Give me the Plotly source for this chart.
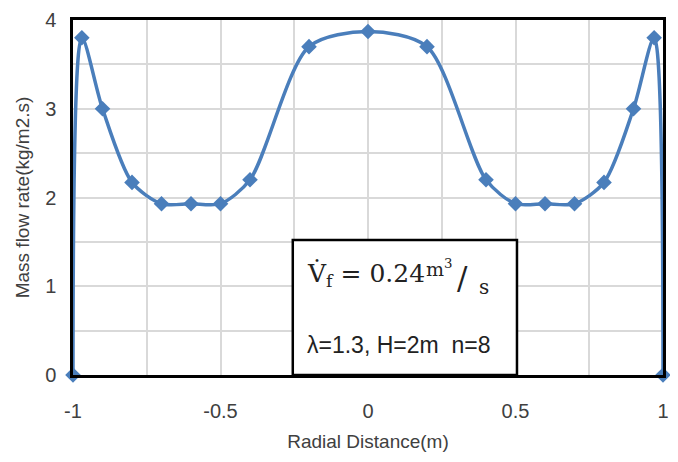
import plotly.graph_objects as go

radial = [-1.0, -0.97, -0.9, -0.8, -0.7, -0.6, -0.5, -0.4, -0.2, 0.0,
          0.2, 0.4, 0.5, 0.6, 0.7, 0.8, 0.9, 0.97, 1.0]
mass_flow = [0.0, 3.8, 3.0, 2.17, 1.93, 1.93, 1.93, 2.2, 3.7, 3.87,
             3.7, 2.2, 1.93, 1.93, 1.93, 2.17, 3.0, 3.8, 0.0]

x_ticks = [-1, -0.5, 0, 0.5, 1]
x_tick_labels = ["-1", "-0.5", "0", "0.5", "1"]
y_ticks = [0, 1, 2, 3, 4]

SANS = "Liberation Sans, Arial"
SERIF = "DejaVu Serif, Liberation Serif, serif"
BLUE = "#4a7ebb"
GREY = "#404040"
INK = "#222"

fig = go.Figure()
fig.add_trace(go.Scatter(
    x=radial, y=mass_flow, mode="lines+markers",
    line=dict(color=BLUE, width=3.5, shape="spline", smoothing=0.8),
    marker=dict(symbol="diamond", size=12, color=BLUE),
    cliponaxis=False, showlegend=False,
))

# annotation box
fig.add_shape(type="rect", xref="x", yref="y", x0=-0.255, x1=0.505, y0=0, y1=1.52,
              line=dict(color="black", width=2.5), fillcolor="white", layer="above")


def note(x, y, text, size, family, xanchor="center"):
    fig.add_annotation(x=x, y=y, xref="x", yref="y", showarrow=False, text=text,
                       xanchor=xanchor, yanchor="middle",
                       font=dict(family=family, size=size, color=INK))


# flow-rate formula, built from pieces so the unit fraction gets its own sizes
note(-0.212, 1.13, "V̇<sub>f</sub> = 0.24", 25, SERIF, "left")
note(0.190, 1.21, "m<sup>3</sup>", 19, SERIF, "left")
note(0.296, 1.09, "/", 31, SERIF, "left")
note(0.370, 0.99, "s", 20, SERIF, "left")
note(0.103, 0.34, "λ=1.3, H=2m  n=8", 23, SANS)

# the page body has an 8px margin; sizes compensate so the plot area sits where the reference has it
fig.update_layout(
    width=670, height=454,
    margin=dict(l=65, r=15, t=12, b=87),
    plot_bgcolor="white", paper_bgcolor="white",
    font=dict(family=SANS, size=20, color=GREY),
    xaxis=dict(range=[-1, 1], tickvals=x_ticks, ticktext=x_tick_labels,
               showgrid=True, gridcolor="#d9d9d9", gridwidth=1.5,
               minor=dict(dtick=0.25, tick0=0, showgrid=True, gridcolor="#d9d9d9", gridwidth=1.5),
               showline=True, linecolor="black", linewidth=2.5, mirror=True,
               zeroline=False, ticks="", ticklabelstandoff=16, automargin=False,
               tickfont=dict(family=SANS, size=20, color=GREY),
               title=dict(text="Radial Distance(m)", font=dict(size=19, family=SANS, color=GREY), standoff=14)),
    yaxis=dict(range=[0, 4], tickvals=y_ticks,
               showgrid=True, gridcolor="#d9d9d9", gridwidth=1.5,
               minor=dict(dtick=0.5, tick0=0, showgrid=True, gridcolor="#d9d9d9", gridwidth=1.5),
               showline=True, linecolor="black", linewidth=2.5, mirror=True,
               zeroline=False, ticks="", ticklabelstandoff=10, automargin=False,
               tickfont=dict(family=SANS, size=20, color=GREY),
               title=dict(text="Mass flow rate(kg/m2.s)", font=dict(size=19, family=SANS, color=GREY), standoff=11)),
)

fig.write_html("out.html")
